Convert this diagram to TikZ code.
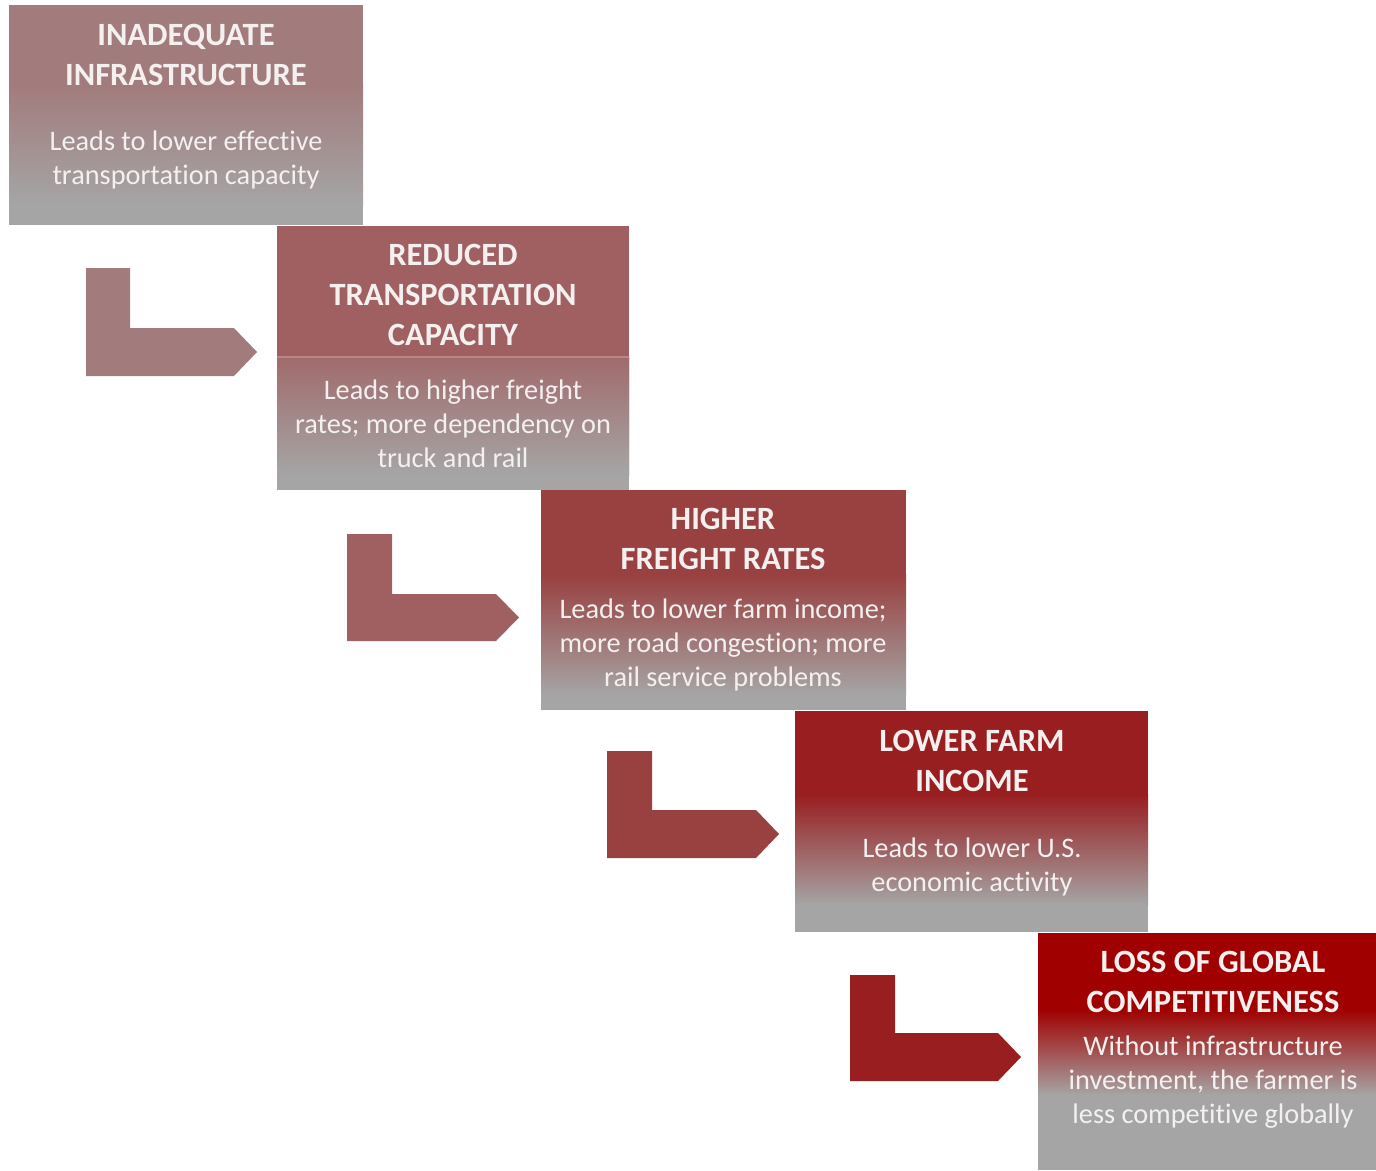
\documentclass[tikz,border=0pt]{standalone}
\usepackage{fontspec}
\setmainfont{Carlito}[Ligatures=NoCommon]
\definecolor{cA}{RGB}{162,123,124}
\definecolor{cB}{RGB}{160,96,98}
\definecolor{cC}{RGB}{153,64,64}
\definecolor{cD}{RGB}{152,30,32}
\definecolor{cE}{RGB}{160,0,0}
\definecolor{gr}{RGB}{165,165,165}
\definecolor{txt}{RGB}{244,240,240}
\tikzset{
  ttl/.style={text=txt,align=center,inner sep=0pt,font=\fontsize{32.5}{40}\selectfont\bfseries},
  bdy/.style={text=txt,align=center,inner sep=0pt,font=\fontsize{28.3}{34}\selectfont},
}
% box: name, x1, y1, x2, y2, color, solid end, gradient end
\newcommand{\gbox}[8]{%
  \fill[#6] (#2,#3) rectangle (#4,#7);
  \shade[top color=#6, bottom color=gr] (#2,{#7-0.5}) rectangle (#4,#8);
  \fill[gr] (#2,{#8-0.5}) rectangle (#4,#5);
  \coordinate (#1) at ({(#2+#4)/2},{(#3+#5)/2});
}
% bent arrow: name, x vertical left, x vertical right, top y, horiz top y, horiz bottom y, head base x, tip x, color
\newcommand{\barrow}[9]{%
  \fill[#9] (#2,#4) -- (#3,#4) -- (#3,#5) -- (#7,#5) -- (#8,{(#5+#6)/2}) -- (#7,#6) -- (#2,#6) -- cycle;
  \coordinate (#1) at (#8,{(#5+#6)/2});
}
\begin{document}
\begin{tikzpicture}[x=1pt,y=-1pt]
\useasboundingbox (0,0) rectangle (1376,1170);
\fill[white] (0,0) rectangle (1376,1170);
% boxes
\gbox{b1}{9}{5}{363}{225}{cA}{85}{205}
\gbox{b2}{277}{226}{629}{490}{cB}{356}{475}
\shade[top color=cB!85!gr, bottom color=gr] (277,357) rectangle (629,475);
\fill[cB!75!white] (277,355.5) rectangle (629,357.5);
\gbox{b3}{541}{490}{906}{710}{cC}{575}{695}
\gbox{b4}{795}{711}{1148}{932}{cD}{795}{905}
\gbox{b5}{1038}{933}{1376}{1170}{cE}{1010}{1095}
% arrows
\barrow{a1}{86}{130}{268}{328}{376}{234}{257}{cA}
\barrow{a2}{347}{392}{534}{594}{641}{496}{519}{cB}
\barrow{a3}{607}{652}{751}{810}{858}{756}{779}{cC}
\barrow{a4}{850}{895}{975}{1033}{1081}{998}{1021}{cD}
% texts
\node[ttl] (t1) at (186,55) {INADEQUATE\\INFRASTRUCTURE};
\node[bdy] (d1) at (186,160) {Leads to lower effective\\transportation capacity};
\node[ttl] (t2) at (453,295) {REDUCED\\TRANSPORTATION\\CAPACITY};
\node[bdy] (d2) at (453,424) {Leads to higher freight\\rates; more dependency on\\truck and rail};
\node[ttl] (t3) at (723,539) {HIGHER\\FREIGHT RATES};
\node[bdy] (d3) at (723,645) {Leads to lower farm income;\\more road congestion; more\\rail service problems};
\node[ttl] (t4) at (972,761) {LOWER FARM\\INCOME};
\node[bdy] (d4) at (972,867) {Leads to lower U.S.\\economic activity};
\node[ttl] (t5) at (1213,982) {LOSS OF GLOBAL\\COMPETITIVENESS};
\node[bdy] (d5) at (1213,1082) {Without infrastructure\\investment, the farmer is\\less competitive globally};
\end{tikzpicture}
\end{document}
